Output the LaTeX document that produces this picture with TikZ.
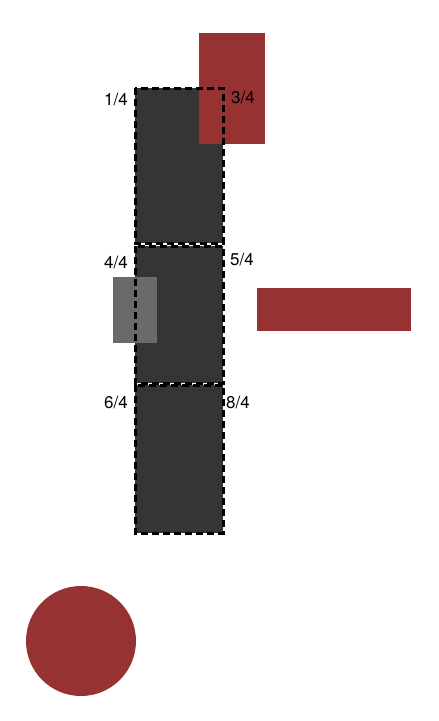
\documentclass[tikz,border=0pt]{standalone}
\usepackage{fontspec}
\setmainfont{TeX Gyre Heros}
\definecolor{brick}{RGB}{150,50,50}
\definecolor{slab}{RGB}{53,53,53}
\definecolor{ghost}{RGB}{106,106,106}
\tikzset{
  edgeline/.style={black,line width=3pt,dash pattern=on 7pt off 4pt},
  tag/.style={inner sep=0pt,font=\fontsize{17}{19}\selectfont}
}
\begin{document}
\begin{tikzpicture}[x=1pt,y=-1pt]
  \useasboundingbox (0,0) rectangle (439,721);
  % the column: three stacked segments, dark fill first
  \foreach \ya/\yb in {88/243, 246/383, 385/533}{
    \fill[slab] (135,\ya) rectangle (223,\yb);
  }
  \fill[ghost] (113,277) rectangle (157,343);
  \fill[brick] (199,33) rectangle (265,144);
  \fill[brick] (257,288) rectangle (411,331);
  \fill[brick] (81,641) circle[radius=55pt];
  % dashed outlines drawn over everything
  \foreach \ya/\yb in {88/243, 246/383, 385/533}{
    \draw[edgeline] (135,\ya) rectangle (223,\yb);
  }
  % quarter labels beside the segments
  \node[tag,anchor=east] (q1) at (128,99) {1/4};
  \node[tag,anchor=west] (q3) at (231,97) {3/4};
  \node[tag,anchor=east] (q4) at (128,262) {4/4};
  \node[tag,anchor=west] (q5) at (230,259) {5/4};
  \node[tag,anchor=east] (q6) at (128,402) {6/4};
  \node[tag,anchor=west] (q8) at (226,402) {8/4};
\end{tikzpicture}
\end{document}
